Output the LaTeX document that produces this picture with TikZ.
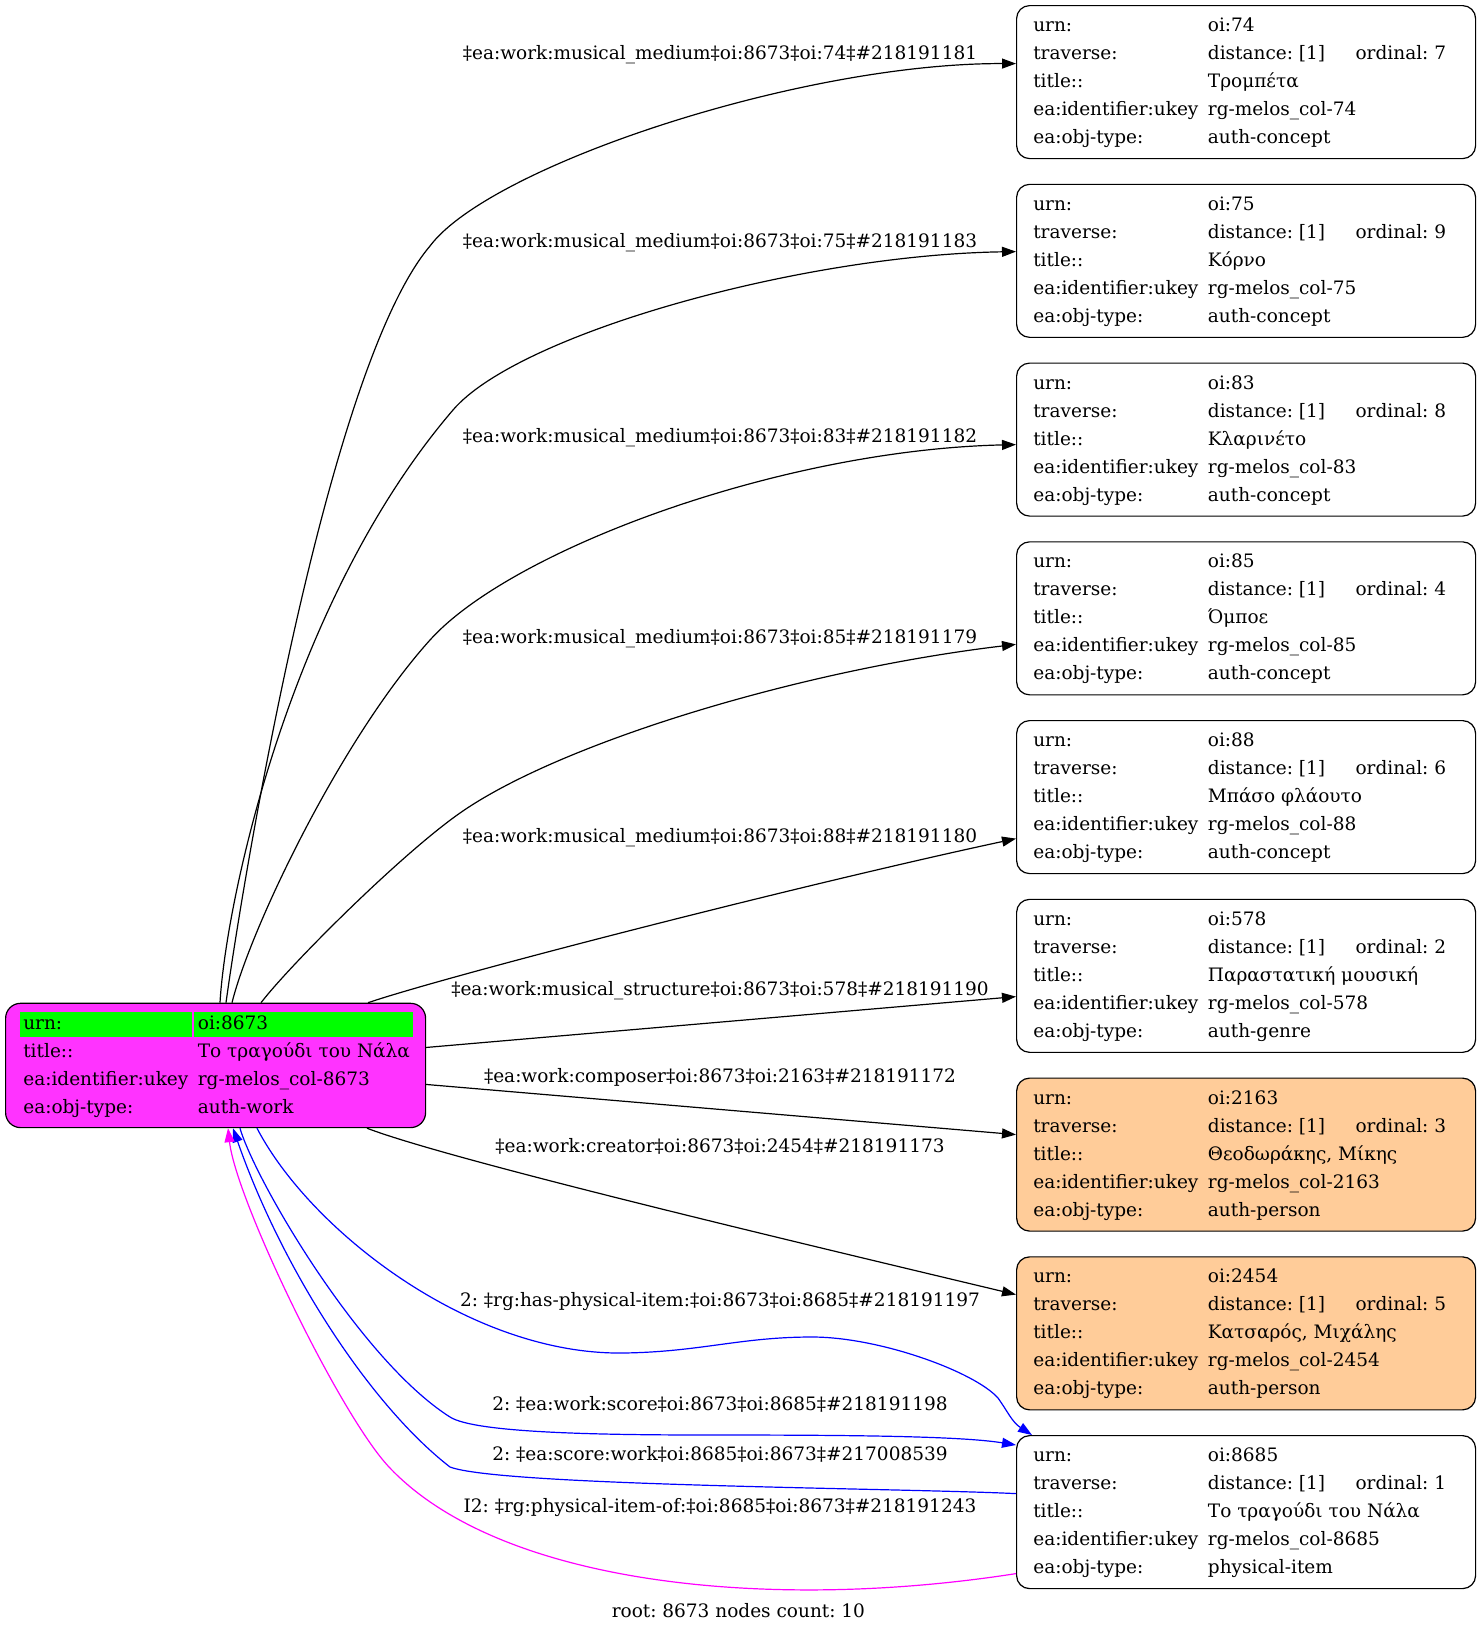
\documentclass[tikz,border=0pt]{standalone}
\usepackage{fontspec}
\setmainfont{DejaVu Serif}
\usetikzlibrary{arrows.meta,calc}
\definecolor{rootfill}{RGB}{255,51,255}
\definecolor{cellgreen}{RGB}{0,255,0}
\definecolor{peach}{RGB}{255,204,153}
\definecolor{edgeblue}{RGB}{0,0,255}
\definecolor{edgemag}{RGB}{255,0,255}
\frenchspacing
\newcommand{\lcol}[1]{\makebox[174.6pt][l]{#1}}
\newcommand{\gcell}[1]{\hspace*{-3.4pt}\rlap{\textcolor{cellgreen}{\rule[-8.4pt]{#1}{25pt}}}\hspace*{3.4pt}}
\newcommand{\infotab}[5]{\makebox[425.6pt][l]{\begin{tabular}{@{}l@{}l@{}}\lcol{urn:}&#1\\\lcol{traverse:}&\makebox[147.7pt][l]{distance: [1]}ordinal: #2\\\lcol{title::}&#3\\\lcol{ea:identifier:ukey}&#4\\\lcol{ea:obj-type:}&#5\end{tabular}}}
\tikzset{
  box/.style={draw=black, line width=1.2pt, rounded corners=13pt, inner xsep=16.7pt, inner ysep=0pt, minimum height=153pt, anchor=north west},
  rootbox/.style={draw=black, line width=1.2pt, rounded corners=15pt, fill=rootfill, inner xsep=17.7pt, inner ysep=0pt, minimum height=124.3pt, anchor=north west},
  elabel/.style={anchor=base, inner sep=0pt},
  conn/.style={line width=1.2pt, -{Triangle[length=14pt,width=10pt]}},
}
\begin{document}
\begin{tikzpicture}[x=1pt,y=-1pt,font=\fontsize{18.5}{28}\selectfont\frenchspacing]
\useasboundingbox (0,0) rectangle (1480,1633);
\fill[white] (0,0) rectangle (1480,1633);
% nodes
\node[box] (n1) at (1016,5) {\infotab{oi:74}{7}{Τρομπέτα}{rg-melos\_col-74}{auth-concept}};
\node[box] (n2) at (1016,183.75) {\infotab{oi:75}{9}{Κόρνο}{rg-melos\_col-75}{auth-concept}};
\node[box] (n3) at (1016,362.5) {\infotab{oi:83}{8}{Κλαρινέτο}{rg-melos\_col-83}{auth-concept}};
\node[box] (n4) at (1016,541.25) {\infotab{oi:85}{4}{Όμποε}{rg-melos\_col-85}{auth-concept}};
\node[box] (n5) at (1016,720) {\infotab{oi:88}{6}{Μπάσο φλάουτο}{rg-melos\_col-88}{auth-concept}};
\node[box] (n6) at (1016,898.75) {\infotab{oi:578}{2}{Παραστατική μουσική}{rg-melos\_col-578}{auth-genre}};
\node[box,fill=peach] (n7) at (1016,1077.5) {\infotab{oi:2163}{3}{Θεοδωράκης, Μίκης}{rg-melos\_col-2163}{auth-person}};
\node[box,fill=peach] (n8) at (1016,1256.25) {\infotab{oi:2454}{5}{Κατσαρός, Μιχάλης}{rg-melos\_col-2454}{auth-person}};
\node[box] (n9) at (1016,1435) {\infotab{oi:8685}{1}{Το τραγούδι του Νάλα}{rg-melos\_col-8685}{physical-item}};
\node[rootbox] (root) at (5,1002.7) {\makebox[384.6pt][l]{\begin{tabular}{@{}l@{}l@{}}\lcol{\gcell{172.4pt}urn:}&\gcell{218.7pt}oi:8673\\\lcol{title::}&Το τραγούδι του Νάλα\\\lcol{ea:identifier:ukey}&rg-melos\_col-8673\\\lcol{ea:obj-type:}&auth-work\end{tabular}}};
% edges
\draw[conn] ($(root.north west)+(221,0)$) .. controls (240,900) and (325,370) .. (430,246) .. controls (490,166) and (800,63) .. ($(n1.west)+(0,-18.5)$);
\draw[conn] ($(root.north west)+(215,0)$) .. controls (226,900) and (290,600) .. (453,410) .. controls (518,334) and (800,255) .. ($(n2.west)+(0,-9.25)$);
\draw[conn] ($(root.north west)+(227,0)$) .. controls (250,930) and (340,740) .. (430,640) .. controls (511,550) and (780,450) .. ($(n3.west)+(0,5)$);
\draw[conn] ($(root.north west)+(256,0)$) .. controls (290,965) and (400,855) .. (460,813) .. controls (560,743) and (800,670) .. ($(n4.west)+(0,26)$);
\draw[conn] ($(root.north west)+(363,0)$) .. controls (450,975) and (800,885) .. ($(n5.west)+(0,41.5)$);
\draw[conn] ($(root.east)+(0,-18)$) -- ($(n6.west)+(0,20.75)$);
\draw[conn] ($(root.east)+(0,19)$) -- ($(n7.west)+(0,-20)$);
\draw[conn] ($(root.south west)+(362,0)$) .. controls (450,1160) and (800,1243) .. ($(n8.west)+(0,-38.75)$);
\draw[conn,edgeblue] ($(root.south west)+(252,0)$) .. controls (310,1230) and (470,1355) .. (623,1353) .. controls (700,1352) and (740,1337) .. (812,1337) .. controls (880,1337) and (975,1372) .. (998,1398) .. controls (1008,1412) and (1012,1422) .. ($(n9.north west)+(16,0)$);
\draw[conn,edgeblue] ($(root.south west)+(235,0)$) .. controls (255,1180) and (360,1360) .. (450,1417) .. controls (475,1433) and (600,1435) .. (710,1435) .. controls (850,1435) and (960,1436) .. ($(n9.north west)+(0,10)$);
\draw[conn,edgeblue] ($(n9.west)+(0,-18.5)$) .. controls (900,1488) and (500,1486) .. (450,1467) .. controls (370,1405) and (282,1269) .. ($(root.south west)+(228,0)$);
\draw[conn,edgemag] ($(n9.west)+(0,61.5)$) .. controls (770,1612) and (500,1585) .. (389,1467) .. controls (340,1415) and (236,1200) .. ($(root.south west)+(223,0)$);
% labels
\node[elabel] (l1) at (720,59) {‡ea:work:musical\_medium‡oi:8673‡oi:74‡\#218191181};
\node[elabel] (l2) at (720,247) {‡ea:work:musical\_medium‡oi:8673‡oi:75‡\#218191183};
\node[elabel] (l3) at (720,442) {‡ea:work:musical\_medium‡oi:8673‡oi:83‡\#218191182};
\node[elabel] (l4) at (720,643) {‡ea:work:musical\_medium‡oi:8673‡oi:85‡\#218191179};
\node[elabel] (l5) at (720,842) {‡ea:work:musical\_medium‡oi:8673‡oi:88‡\#218191180};
\node[elabel] (l6) at (720,995) {‡ea:work:musical\_structure‡oi:8673‡oi:578‡\#218191190};
\node[elabel] (l7) at (720,1082.5) {‡ea:work:composer‡oi:8673‡oi:2163‡\#218191172};
\node[elabel] (l8) at (720,1152) {‡ea:work:creator‡oi:8673‡oi:2454‡\#218191173};
\node[elabel] (l9) at (720,1306.5) {2: ‡rg:has-physical-item:‡oi:8673‡oi:8685‡\#218191197};
\node[elabel] (l10) at (720,1410) {2: ‡ea:work:score‡oi:8673‡oi:8685‡\#218191198};
\node[elabel] (l11) at (720,1460) {2: ‡ea:score:work‡oi:8685‡oi:8673‡\#217008539};
\node[elabel] (l12) at (720,1512) {I2: ‡rg:physical-item-of:‡oi:8685‡oi:8673‡\#218191243};
\node[elabel] (foot) at (738.4,1617.5) {root: 8673 nodes count: 10};
\end{tikzpicture}
\end{document}
